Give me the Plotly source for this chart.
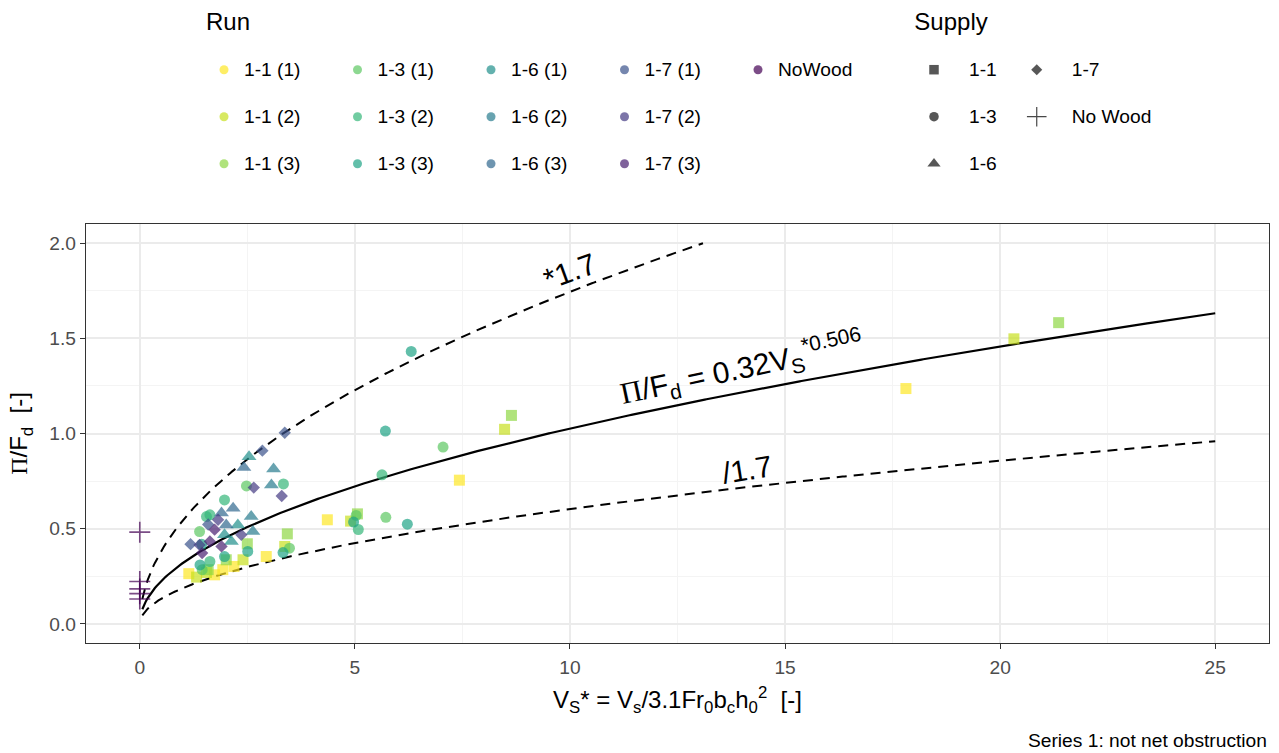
import numpy as np
import plotly.graph_objects as go

# ---------------- data ----------------
RUN_NAMES = ["1-1 (1)", "1-1 (2)", "1-1 (3)",
             "1-3 (1)", "1-3 (2)", "1-3 (3)",
             "1-6 (1)", "1-6 (2)", "1-6 (3)",
             "1-7 (1)", "1-7 (2)", "1-7 (3)",
             "NoWood"]
RUN_SUPPLY = ["1-1", "1-1", "1-1", "1-3", "1-3", "1-3",
              "1-6", "1-6", "1-6", "1-7", "1-7", "1-7", "No Wood"]
RUN_COLORS = ["#FDE725", "#C7E020", "#8FD744", "#5DC863", "#35B779", "#20A486",
              "#21908C", "#287C8E", "#31688E", "#3B528B", "#443A83", "#481F70",
              "#440154"]

SUPPLY_NAMES = ["1-1", "1-3", "1-6", "1-7", "No Wood"]
SUPPLY_SYMBOLS = ["square", "circle", "triangle-up", "diamond", "cross-thin"]

R11_1_X = [1.14, 1.74, 1.93, 2.19, 2.94, 4.36, 7.43, 17.81]
R11_1_Y = [0.264, 0.258, 0.285, 0.302, 0.354, 0.547, 0.755, 1.236]
R11_2_X = [1.32, 1.55, 2.40, 3.37, 4.90, 8.48, 20.32]
R11_2_Y = [0.246, 0.270, 0.337, 0.407, 0.540, 1.022, 1.497]
R11_3_X = [1.59, 2.01, 2.50, 3.43, 5.06, 8.64, 21.36]
R11_3_Y = [0.285, 0.337, 0.421, 0.473, 0.578, 1.095, 1.582]

R13_1_X = [1.39, 1.45, 2.48, 3.48, 5.03, 5.72, 7.05]
R13_1_Y = [0.485, 0.285, 0.725, 0.398, 0.570, 0.560, 0.929]
R13_2_X = [1.55, 1.63, 1.63, 1.97, 3.34, 5.08, 5.63]
R13_2_Y = [0.564, 0.573, 0.328, 0.651, 0.735, 0.496, 0.783]
R13_3_X = [1.40, 1.44, 1.97, 2.51, 3.33, 4.97, 5.71, 6.22, 6.31]
R13_3_Y = [0.310, 0.418, 0.354, 0.381, 0.375, 0.535, 1.013, 0.524, 1.431]

R16_1_X = [1.97, 2.13, 2.28, 2.54]
R16_1_Y = [0.468, 0.433, 0.520, 0.878]
R16_2_X = [2.59, 2.63, 3.06, 3.11]
R16_2_Y = [0.564, 0.485, 0.730, 0.814]
R16_3_X = [1.90, 2.01, 2.17, 2.42]
R16_3_Y = [0.582, 0.520, 0.608, 0.821]

R17_1_X = [1.18, 1.59, 2.85, 3.37]
R17_1_Y = [0.419, 0.522, 0.910, 1.004]
R17_2_X = [1.39, 1.82, 2.36, 2.65, 3.30]
R17_2_Y = [0.415, 0.547, 0.468, 0.716, 0.672]
R17_3_X = [1.45, 1.63, 1.74, 1.90]
R17_3_Y = [0.372, 0.433, 0.495, 0.407]

RNW_X = [0.0, 0.0, 0.0, 0.0, 0.0]
RNW_Y = [0.482, 0.223, 0.184, 0.159, 0.131]

RUN_X = [R11_1_X, R11_2_X, R11_3_X, R13_1_X, R13_2_X, R13_3_X,
         R16_1_X, R16_2_X, R16_3_X, R17_1_X, R17_2_X, R17_3_X, RNW_X]
RUN_Y = [R11_1_Y, R11_2_Y, R11_3_Y, R13_1_Y, R13_2_Y, R13_3_Y,
         R16_1_Y, R16_2_Y, R16_3_Y, R17_1_Y, R17_2_Y, R17_3_Y, RNW_Y]

# fitted relation shown on the chart: Pi/Fd = 0.32 * Vs*^0.506, band *1.7 and /1.7
FIT_COEF = 0.32
FIT_EXP = 0.506
BAND = 1.7
CURVE_X_MIN = 0.06
CURVE_X_MAX = 25.0
CURVE_Y_MAX = 2.0

X_TICKS = [0, 5, 10, 15, 20, 25]
Y_TICKS = [0.0, 0.5, 1.0, 1.5, 2.0]
Y_TICK_TEXT = ["0.0", "0.5", "1.0", "1.5", "2.0"]

# ---------------- figure ----------------
FONT = "Liberation Sans, Arial, sans-serif"
SERIF = "Liberation Serif, Times New Roman, serif"
ALPHA = 0.7
DASH = "10px,7px"

fig = go.Figure()

curve_x = np.linspace(CURVE_X_MIN, CURVE_X_MAX, 600)
fit_y = FIT_COEF * curve_x ** FIT_EXP
up_y = fit_y * BAND
lo_y = fit_y / BAND
up_mask = up_y <= CURVE_Y_MAX

fig.add_trace(go.Scatter(x=curve_x[up_mask], y=up_y[up_mask], mode="lines",
                         line=dict(color="black", width=2, dash=DASH),
                         showlegend=False, hoverinfo="skip"))
fig.add_trace(go.Scatter(x=curve_x, y=lo_y, mode="lines",
                         line=dict(color="black", width=2, dash=DASH),
                         showlegend=False, hoverinfo="skip"))
fig.add_trace(go.Scatter(x=curve_x, y=fit_y, mode="lines",
                         line=dict(color="black", width=2.2),
                         showlegend=False, hoverinfo="skip"))

SYMBOL_SIZE = {"square": 11, "circle": 11, "triangle-up": 13,
               "diamond": 9.5, "cross-thin": 15}

for name, sup, col, xs, ys in zip(RUN_NAMES, RUN_SUPPLY, RUN_COLORS, RUN_X, RUN_Y):
    sym = SUPPLY_SYMBOLS[SUPPLY_NAMES.index(sup)]
    marker = dict(symbol=sym, size=SYMBOL_SIZE[sym], color=col, opacity=ALPHA)
    if sym == "cross-thin":
        marker["line"] = dict(width=1.6, color=col)
    else:
        marker["line"] = dict(width=0)
    fig.add_trace(go.Scatter(x=xs, y=ys, mode="markers", marker=marker,
                             name=name, showlegend=False))

# ---------------- legends (legend-only entries) ----------------
NB = "\u00a0"


def legend_label(text, pad=0):
    # blank first line + bottom-aligned symbol gives the tall rows of the reference
    return NB + "<br><span style='font-size:19.2px'>" + text + NB * pad + "</span>"


for name, sup, col in zip(RUN_NAMES, RUN_SUPPLY, RUN_COLORS):
    fig.add_trace(go.Scatter(
        x=[None], y=[None], mode="markers",
        marker=dict(symbol="circle", size=9, color=col, opacity=ALPHA),
        name=legend_label(name, 0 if name == "NoWood" else 6),
        legend="legend", legendgroup="run_" + sup, showlegend=True))

SUPPLY_COLUMN = ["a", "a", "a", "b", "b"]
LEG_SIZE = {"square": 9.5, "circle": 9.5, "triangle-up": 11.5, "diamond": 8.5,
            "cross-thin": 14}
for sname, ssym, scol in zip(SUPPLY_NAMES, SUPPLY_SYMBOLS, SUPPLY_COLUMN):
    mk = dict(symbol=ssym, size=LEG_SIZE[ssym], color="rgba(40,40,40,0.78)")
    if ssym == "cross-thin":
        mk["line"] = dict(width=1.2, color="rgba(40,40,40,0.85)")
    else:
        mk["line"] = dict(width=0)
    fig.add_trace(go.Scatter(
        x=[None], y=[None], mode="markers", marker=mk,
        name=legend_label(sname), legend="legend2",
        legendgroup="sup_" + scol, showlegend=True))

# ---------------- layout ----------------
L, R, T, B = 86, 10, 224, 110
W, H = 1279, 753
PW, PH = W - L - R, H - T - B


def px_to_paper_x(px):
    return (px - L) / PW


def px_to_paper_y(py):
    return (H - B - py) / PH


axis_common = dict(showline=True, mirror=True, linecolor="#333333", linewidth=1.2,
                   ticks="outside", ticklen=5, tickwidth=1.2, tickcolor="#333333",
                   showgrid=True, gridcolor="#EBEBEB", gridwidth=1.6,
                   zeroline=False,
                   tickfont=dict(size=19.2, color="#4D4D4D", family=FONT))

LEG_FONT = 22 / 1.3   # line height 22 px -> row pitch 47 px

fig.update_layout(
    width=W, height=H,
    margin=dict(l=L, r=R, t=T, b=B, autoexpand=False),
    paper_bgcolor="white", plot_bgcolor="white",
    font=dict(family=FONT, color="black"),
    xaxis=dict(range=[-1.25, 26.25], tickvals=X_TICKS, ticklabelstandoff=2,
               minor=dict(dtick=2.5, tick0=0, showgrid=True, gridcolor="#F4F4F4",
                          gridwidth=1, ticks=""),
               title=dict(text="V<sub>S</sub>* = V<sub>s</sub>/3.1Fr<sub>0</sub>b<sub>c</sub>h<sub>0</sub><sup>2</sup>  [-]",
                          font=dict(size=24), standoff=14),
               **axis_common),
    yaxis=dict(range=[-0.1, 2.1], tickvals=Y_TICKS, ticktext=Y_TICK_TEXT,
               minor=dict(dtick=0.25, tick0=0, showgrid=True, gridcolor="#F4F4F4",
                          gridwidth=1, ticks=""),
               title=dict(text="<span style='font-family:" + SERIF + "'>Π</span>/F<sub>d</sub>  [-]",
                          font=dict(size=24), standoff=14),
               **axis_common),
    legend=dict(orientation="h", traceorder="grouped", valign="bottom",
                x=px_to_paper_x(204), xanchor="left",
                y=px_to_paper_y(-1), yanchor="top",
                bgcolor="rgba(0,0,0,0)", borderwidth=0,
                itemwidth=30, tracegroupgap=0,
                font=dict(size=LEG_FONT, family=FONT, color="black"),
                title=dict(text="Run", side="top", font=dict(size=24, family=FONT))),
    legend2=dict(orientation="h", traceorder="grouped", valign="bottom",
                 x=px_to_paper_x(899), xanchor="left",
                 y=px_to_paper_y(-1), yanchor="top",
                 bgcolor="rgba(0,0,0,0)", borderwidth=0,
                 itemwidth=60, tracegroupgap=0,
                 font=dict(size=LEG_FONT, family=FONT, color="black"),
                 title=dict(text=NB + NB + "Supply", side="top",
                            font=dict(size=24, family=FONT))),
    annotations=[
        dict(x=9.98, y=1.852, xref="x", yref="y", text="*1.7", showarrow=False,
             textangle=-20, font=dict(size=30, family=FONT, color="black")),
        dict(x=14.12, y=0.812, xref="x", yref="y", text="/1.7", showarrow=False,
             textangle=-9, font=dict(size=30, family=FONT, color="black")),
        dict(x=13.98, y=1.343, xref="x", yref="y",
             text="<span style='font-family:" + SERIF + "'>Π</span>/F<sub>d</sub> = 0.32V<sub>S</sub><sup>*0.506</sup>",
             showarrow=False, textangle=-12,
             font=dict(size=30, family=FONT, color="black")),
        dict(x=1.0, y=px_to_paper_y(740), xref="paper", yref="paper",
             xanchor="right", yanchor="middle", showarrow=False,
             text="Series 1: not net obstruction",
             font=dict(size=19.2, family=FONT, color="black")),
    ],
)

fig.write_html("out.html")
